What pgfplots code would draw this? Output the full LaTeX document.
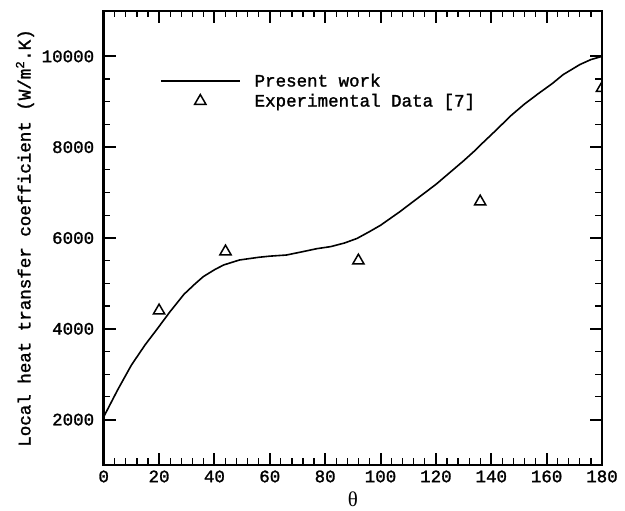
\documentclass[border=0pt]{standalone}
\usepackage{fontspec}
\setmainfont{Liberation Mono}[BoldFont={Liberation Mono}, BoldFeatures={FakeBold=1.5}]
\newfontfamily\thetafont{Liberation Serif}
\usepackage{pgfplots}
\pgfplotsset{compat=1.18}
\newcommand{\fs}{\fontsize{17.5}{21}\selectfont\bfseries}

\begin{document}
\begin{tikzpicture}
\useasboundingbox (-103.7pt,-46pt) rectangle (521.3pt,465pt);
\begin{axis}[
    at={(0,0)}, anchor=south west,
    scale only axis,
    width=498.3pt, height=454pt,
    xmin=0, xmax=180,
    ymin=1000, ymax=11000,
    xtick={0,20,...,180},
    ytick={2000,4000,...,10000},
    scaled y ticks=false,
    minor x tick num=4,
    minor y tick num=3,
    tick align=inside,
    major tick length=12pt,
    minor tick length=6.5pt,
    every major tick/.append style={line width=2pt, black},
    every minor tick/.append style={line width=1.2pt, black},
    axis line style={line width=2.4pt},
    /pgf/number format/assume math mode=true,
    /pgf/number format/1000 sep={},
    tick label style={font=\fs},
    yticklabel style={xshift=-6pt},
    xticklabel style={yshift=-2pt},
    xlabel={\thetafont\fontsize{21}{24}\selectfont θ},
    xlabel style={at={(axis description cs:0.5,-0.075)}, anchor=center},
    ylabel={\fs Local heat transfer coefficient (W/m\textsuperscript{2}.K)},
    ylabel style={at={(axis description cs:-0.158,0.5)}, anchor=center},
    clip marker paths=true,
    legend style={draw=none, fill=none, at={(axis description cs:0.113,0.86)},
        anchor=north west, inner sep=0pt, outer sep=0pt,
        column sep=14pt, row sep=4pt,
        nodes={inner sep=0pt, text height=12pt, text depth=4pt, font=\fs}},
    legend cell align=left,
]
\addplot[black, line width=1.6pt, mark=none,
    legend image code/.code={\draw[black, line width=1.6pt] (0pt,1.5pt) -- (79pt,1.5pt);}]
coordinates {
 (0,2060) (5,2650) (10,3200) (15,3650) (19,3970) (24,4380) (29,4760)
 (33,4990) (36,5150) (40,5300) (43.3,5405) (49,5515) (56,5575) (60,5600)
 (66,5625) (72,5700) (77,5765) (82,5810) (87,5890) (91.5,5990) (96,6140)
 (100,6280) (107,6580) (115,6950) (120,7180) (125,7440) (130,7700)
 (134,7920) (137,8100) (142,8390) (147,8690) (152,8950) (157,9180)
 (162,9400) (166,9600) (172,9820) (176,9930) (180,10000)
};
\addlegendentry{Present work}
\addplot[only marks, mark=triangle, mark size=6.5pt,
    mark options={black, line width=1.5pt, fill=none},
    legend image code/.code={\draw[black, line width=1.5pt] plot[mark=triangle, mark size=6.5pt] coordinates {(39.5pt,1.5pt)};}]
coordinates {
 (20,4400) (44,5700) (92,5500) (136,6800) (180,9300)
};
\addlegendentry{Experimental Data [7]}
\end{axis}
\end{tikzpicture}
\end{document}
